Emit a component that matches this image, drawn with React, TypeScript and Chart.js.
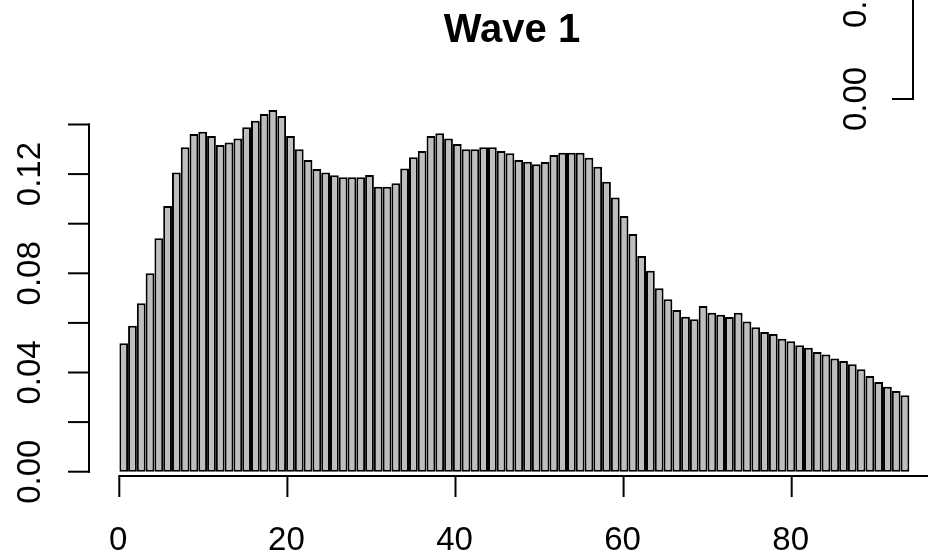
import React, { useEffect, useRef } from "react";
import { Chart, registerables } from "chart.js";

Chart.register(...registerables);

// Histogram: 90 equal bins spanning 0 .. 94
const binLow = 0;
const binHigh = 94;
const density = [
  0.0518, 0.0589, 0.0679, 0.0800, 0.0941, 0.1071, 0.1206, 0.1308, 0.1362, 0.1371,
  0.1354, 0.1317, 0.1327, 0.1344, 0.1389, 0.1415, 0.1442, 0.1458, 0.1434, 0.1354,
  0.1300, 0.1257, 0.1221, 0.1206, 0.1195, 0.1187, 0.1187, 0.1187, 0.1196, 0.1149,
  0.1149, 0.1163, 0.1223, 0.1268, 0.1293, 0.1354, 0.1365, 0.1344, 0.1321, 0.1300,
  0.1300, 0.1308, 0.1308, 0.1293, 0.1284, 0.1257, 0.1250, 0.1240, 0.1249, 0.1277,
  0.1286, 0.1286, 0.1286, 0.1266, 0.1230, 0.1169, 0.1106, 0.1031, 0.0958, 0.0870,
  0.0810, 0.0740, 0.0695, 0.0652, 0.0625, 0.0615, 0.0668, 0.0641, 0.0633, 0.0624,
  0.0641, 0.0606, 0.0582, 0.0563, 0.0555, 0.0536, 0.0526, 0.0510, 0.0500, 0.0483,
  0.0473, 0.0456, 0.0446, 0.0433, 0.0413, 0.0386, 0.0362, 0.0343, 0.0325, 0.0308,
];

const xTicks = [0, 20, 40, 60, 80, 100];
const xTickLabels = ["0", "20", "40", "60", "80", "100"];
const yTicks = [0, 0.02, 0.04, 0.06, 0.08, 0.1, 0.12, 0.14];
const yLabelValues = [0, 0.04, 0.08, 0.12];
const yLabelTexts = ["0.00", "0.04", "0.08", "0.12"];
const titleText = "Wave 1";
const sidePanelLabels = ["0.00", "0.04"];

const FONT = '"Liberation Sans", Arial, Helvetica, sans-serif';

const binWidth = (binHigh - binLow) / density.length;
const points = density.map((v, i) => ({ x: binLow + (i + 0.5) * binWidth, y: v }));

const rAxesPlugin = {
  id: "rAxes",
  afterDraw(chart: any) {
    const ctx = chart.ctx as CanvasRenderingContext2D;
    const xs = chart.scales.x;
    const ys = chart.scales.y;
    const area = chart.chartArea;
    ctx.save();
    ctx.strokeStyle = "#000";
    ctx.fillStyle = "#000";
    ctx.lineWidth = 2;
    ctx.lineCap = "butt";

    // X axis (R style: line from first to last tick)
    const axisY = Math.round(area.bottom);
    const xFirst = xs.getPixelForValue(xTicks[0]);
    const xLast = xs.getPixelForValue(xTicks[xTicks.length - 1]);
    ctx.beginPath();
    ctx.moveTo(xFirst - 1, axisY);
    ctx.lineTo(xLast, axisY);
    ctx.stroke();
    ctx.font = `33px ${FONT}`;
    ctx.textAlign = "center";
    ctx.textBaseline = "alphabetic";
    xTicks.forEach((t, i) => {
      const px = xs.getPixelForValue(t);
      ctx.beginPath();
      ctx.moveTo(px, axisY);
      ctx.lineTo(px, axisY + 21);
      ctx.stroke();
      ctx.fillText(xTickLabels[i], px - 1, axisY + 74);
    });

    // Y axis
    const axisX = Math.round(area.left) - 30;
    const yBottom = ys.getPixelForValue(yTicks[0]);
    const yTop = ys.getPixelForValue(yTicks[yTicks.length - 1]);
    ctx.beginPath();
    ctx.moveTo(axisX, yBottom + 1);
    ctx.lineTo(axisX, yTop - 1);
    ctx.stroke();
    yTicks.forEach((t) => {
      const py = ys.getPixelForValue(t);
      ctx.beginPath();
      ctx.moveTo(axisX - 21, py);
      ctx.lineTo(axisX + 1, py);
      ctx.stroke();
    });
    yLabelValues.forEach((t, i) => {
      const py = ys.getPixelForValue(t);
      ctx.save();
      ctx.translate(axisX - 49, py);
      ctx.rotate(-Math.PI / 2);
      ctx.textAlign = "center";
      ctx.textBaseline = "alphabetic";
      ctx.fillText(yLabelTexts[i], 0, 0);
      ctx.restore();
    });

    // Title
    ctx.font = `bold 40px ${FONT}`;
    ctx.textAlign = "center";
    ctx.textBaseline = "alphabetic";
    ctx.fillText(titleText, 512, 41.5);

    // Fragment of the neighbouring panel's y axis (top right)
    ctx.beginPath();
    ctx.moveTo(913, -2);
    ctx.lineTo(913, 100);
    ctx.moveTo(892, 99);
    ctx.lineTo(914, 99);
    ctx.stroke();
    ctx.font = `33px ${FONT}`;
    [99, -4].forEach((cy, i) => {
      ctx.save();
      ctx.translate(866, cy);
      ctx.rotate(-Math.PI / 2);
      ctx.textAlign = "center";
      ctx.fillText(sidePanelLabels[i], 0, 0);
      ctx.restore();
    });

    ctx.restore();
  },
};

export default function App() {
  const canvasRef = useRef<HTMLCanvasElement | null>(null);

  useEffect(() => {
    const canvas = canvasRef.current;
    if (!canvas) return;
    const left = 119.3;
    const pxPerUnit = 8.405;
    const zeroY = 471.7;
    const pxPerDensity = 2480;
    const yMin = -0.0017;
    const yMax = 0.15;
    const top = zeroY - yMax * pxPerDensity;
    const bottom = zeroY - yMin * pxPerDensity;
    const xMax = (928 - left) / pxPerUnit;

    const chart = new Chart(canvas, {
      type: "bar",
      data: {
        datasets: [
          {
            data: points as any,
            backgroundColor: "#bebebe",
            borderColor: "#000000",
            borderWidth: 2,
            borderSkipped: false,
            inflateAmount: 0,
            barPercentage: 1,
            categoryPercentage: 1,
          } as any,
        ],
      },
      options: {
        responsive: false,
        animation: false,
        devicePixelRatio: 1,
        layout: {
          padding: { left, right: 0, top, bottom: 556 - bottom },
        },
        plugins: {
          legend: { display: false },
          title: { display: false },
          tooltip: { enabled: false },
        },
        scales: {
          x: {
            type: "linear",
            display: false,
            offset: false,
            min: 0,
            max: xMax,
            grid: { offset: false },
            ticks: { stepSize: 20, includeBounds: false } as any,
          },
          y: {
            type: "linear",
            display: false,
            min: yMin,
            max: yMax,
          },
        },
      },
      plugins: [rAxesPlugin],
    });
    return () => chart.destroy();
  }, []);

  return (
    <div style={{ position: "absolute", left: 0, top: 0, width: 928, height: 556, overflow: "hidden", background: "#fff" }}>
      <canvas ref={canvasRef} width={928} height={556} style={{ display: "block" }} />
    </div>
  );
}
